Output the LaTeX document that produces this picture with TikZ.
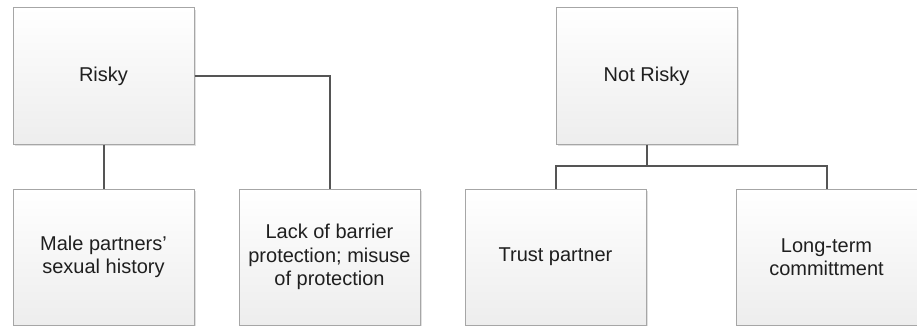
\documentclass[tikz,border=0pt]{standalone}
\usepackage{fontspec}
\setmainfont{Liberation Sans}
\usetikzlibrary{shadows}
\definecolor{boxline}{HTML}{A6A6A6}
\definecolor{conn}{HTML}{555555}
\tikzset{
  box/.style={draw=boxline, line width=1pt, top color=white, bottom color=black!7,
    minimum width=181pt, minimum height=136pt, inner sep=2pt, align=center,
    font=\fontsize{20pt}{23.5pt}\selectfont, text=black!88,
    drop shadow={shadow xshift=2pt, shadow yshift=-2pt, fill=black!12, opacity=1}},
  conn/.style={draw=conn, line width=2pt}
}
\begin{document}
\begin{tikzpicture}[x=1pt,y=-1pt]
\useasboundingbox (0,0) rectangle (917,326);
\node[box] (R)  at (103.5,76)  {Risky};
\node[box] (M)  at (103.5,257) {Male partners'\\sexual history};
\node[box] (B)  at (329.5,257) {Lack of barrier\\protection; misuse\\of protection};
\node[box] (NR) at (646.5,76)  {Not Risky};
\node[box] (T)  at (555.5,257) {Trust partner};
\node[box] (L)  at (826.5,257) {Long-term\\committment};
\coordinate (j) at (646.5,166);
\draw[conn] (R.south) -- (M.north);
\draw[conn] (R.east) -| (B.north);
\draw[conn] (NR.south) -- (j);
\draw[conn] (T.north) |- (j) -| (L.north);
\end{tikzpicture}
\end{document}
